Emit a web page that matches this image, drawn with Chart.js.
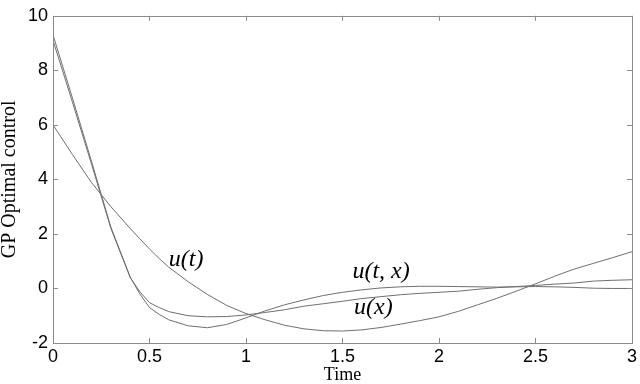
<!DOCTYPE html>
<html>
<head>
<meta charset="utf-8">
<script src="https://cdn.jsdelivr.net/npm/chart.js@4.4.1/dist/chart.umd.min.js"></script>
<style>
  html, body { margin: 0; padding: 0; background: #fff; }
  #wrap { width: 640px; height: 384px; }
</style>
</head>
<body>
<div id="wrap"><canvas id="gpChart"></canvas></div>
<script>
// time grid (step 0.1, a bit finer around the knee at 0.4-0.6)
const times = [0, 0.1, 0.2, 0.3, 0.4, 0.45, 0.5, 0.55, 0.6, 0.7, 0.8, 0.9, 1.0,
  1.1, 1.2, 1.3, 1.4, 1.5, 1.6, 1.7, 1.8, 1.9, 2.0,
  2.1, 2.2, 2.3, 2.4, 2.5, 2.6, 2.7, 2.8, 2.9, 3.0];

// u(t)
const uT = [6.0, 4.92, 3.88, 3.0, 2.2, 1.82, 1.45, 1.1, 0.78, 0.25, -0.22, -0.62, -0.92,
  -1.15, -1.35, -1.48, -1.55, -1.56, -1.52, -1.43, -1.31, -1.18, -1.04,
  -0.84, -0.6, -0.36, -0.1, 0.17, 0.45, 0.71, 0.92, 1.13, 1.35];

// u(t, x)
const uTX = [9.3, 7.0, 4.65, 2.25, 0.42, -0.2, -0.7, -0.95, -1.15, -1.37, -1.44, -1.32, -1.08,
  -0.82, -0.6, -0.42, -0.26, -0.14, -0.05, 0.02, 0.06, 0.08, 0.08,
  0.07, 0.06, 0.05, 0.06, 0.07, 0.06, 0.04, 0.01, 0.0, 0.0];

// u(x)
const uX = [9.1, 6.85, 4.55, 2.2, 0.4, -0.12, -0.52, -0.7, -0.85, -1.0, -1.04, -1.03, -0.97,
  -0.88, -0.78, -0.65, -0.56, -0.47, -0.37, -0.3, -0.23, -0.18, -0.14,
  -0.1, -0.03, 0.03, 0.07, 0.11, 0.16, 0.2, 0.27, 0.3, 0.32];

const xTicks = [0, 0.5, 1, 1.5, 2, 2.5, 3];
const yTicks = [-2, 0, 2, 4, 6, 8, 10];

const curveLabels = ['u(t)', 'u(t, x)', 'u(x)'];

const toPoints = (ys) => ys.map((y, i) => ({ x: times[i], y }));

const lineColor = '#6f6f6f';
const axisColor = '#8a8a8a';

// boxed axes with inward ticks + curve annotations, MATLAB style
const boxPlugin = {
  id: 'boxAxes',
  afterDatasetsDraw(chart) {
    const { ctx, chartArea: a, scales: { x, y } } = chart;
    ctx.save();
    ctx.strokeStyle = axisColor;
    ctx.lineWidth = 1;
    ctx.strokeRect(Math.round(a.left) + 0.5, Math.round(a.top) + 0.5,
      Math.round(a.right - a.left), Math.round(a.bottom - a.top));
    ctx.beginPath();
    xTicks.forEach(v => {
      const px = Math.round(x.getPixelForValue(v)) + 0.5;
      ctx.moveTo(px, a.bottom); ctx.lineTo(px, a.bottom - 5);
      ctx.moveTo(px, a.top); ctx.lineTo(px, a.top + 5);
    });
    yTicks.forEach(v => {
      const py = Math.round(y.getPixelForValue(v)) + 0.5;
      ctx.moveTo(a.left, py); ctx.lineTo(a.left + 5, py);
      ctx.moveTo(a.right, py); ctx.lineTo(a.right - 5, py);
    });
    ctx.stroke();

    // curve names
    const spots = [[0.69, 1.05], [1.70, 0.62], [1.66, -0.71]];
    ctx.fillStyle = '#000';
    ctx.font = 'italic 24px "Liberation Serif", "Times New Roman", serif';
    ctx.textAlign = 'center';
    ctx.textBaseline = 'middle';
    curveLabels.forEach((t, i) => {
      ctx.fillText(t, x.getPixelForValue(spots[i][0]), y.getPixelForValue(spots[i][1]));
    });
    ctx.restore();
  }
};

const mkSet = (label, ys) => ({
  label,
  data: toPoints(ys),
  borderColor: lineColor,
  borderWidth: 1,
  pointRadius: 0,
  tension: 0,
  fill: false
});

new Chart(document.getElementById('gpChart').getContext('2d'), {
  type: 'line',
  data: {
    datasets: [
      mkSet(curveLabels[0], uT),
      mkSet(curveLabels[1], uTX),
      mkSet(curveLabels[2], uX)
    ]
  },
  options: {
    responsive: true,
    maintainAspectRatio: false,
    animation: false,
    layout: { padding: { top: 10, right: 7, left: 0, bottom: 0 } },
    plugins: {
      legend: { display: false },
      tooltip: { enabled: false }
    },
    scales: {
      x: {
        type: 'linear',
        min: 0,
        max: 3,
        afterBuildTicks: (s) => { s.ticks = xTicks.map(v => ({ value: v })); },
        afterFit: (s) => { s.height = 41; },
        grid: { display: false, drawTicks: false, tickLength: 0 },
        border: { display: false },
        ticks: {
          color: '#000',
          padding: 3,
          maxRotation: 0,
          font: { family: '"Liberation Sans", Arial, sans-serif', size: 18 },
          callback: (v) => String(v)
        },
        title: {
          display: true,
          text: 'Time',
          color: '#000',
          padding: { top: 0, bottom: 0 },
          font: { family: '"Liberation Serif", "Times New Roman", serif', size: 18, lineHeight: 1 }
        }
      },
      y: {
        min: -2,
        max: 10,
        afterBuildTicks: (s) => { s.ticks = yTicks.map(v => ({ value: v })); },
        afterFit: (s) => { s.width = 53; },
        grid: { display: false, drawTicks: false, tickLength: 0 },
        border: { display: false },
        ticks: {
          color: '#000',
          padding: 5,
          font: { family: '"Liberation Sans", Arial, sans-serif', size: 18 },
          callback: (v) => String(v)
        },
        title: {
          display: true,
          text: 'GP Optimal control',
          color: '#000',
          padding: { top: 0, bottom: 0 },
          font: { family: '"Liberation Serif", "Times New Roman", serif', size: 20, lineHeight: 1 }
        }
      }
    }
  },
  plugins: [boxPlugin]
});
</script>
</body>
</html>
